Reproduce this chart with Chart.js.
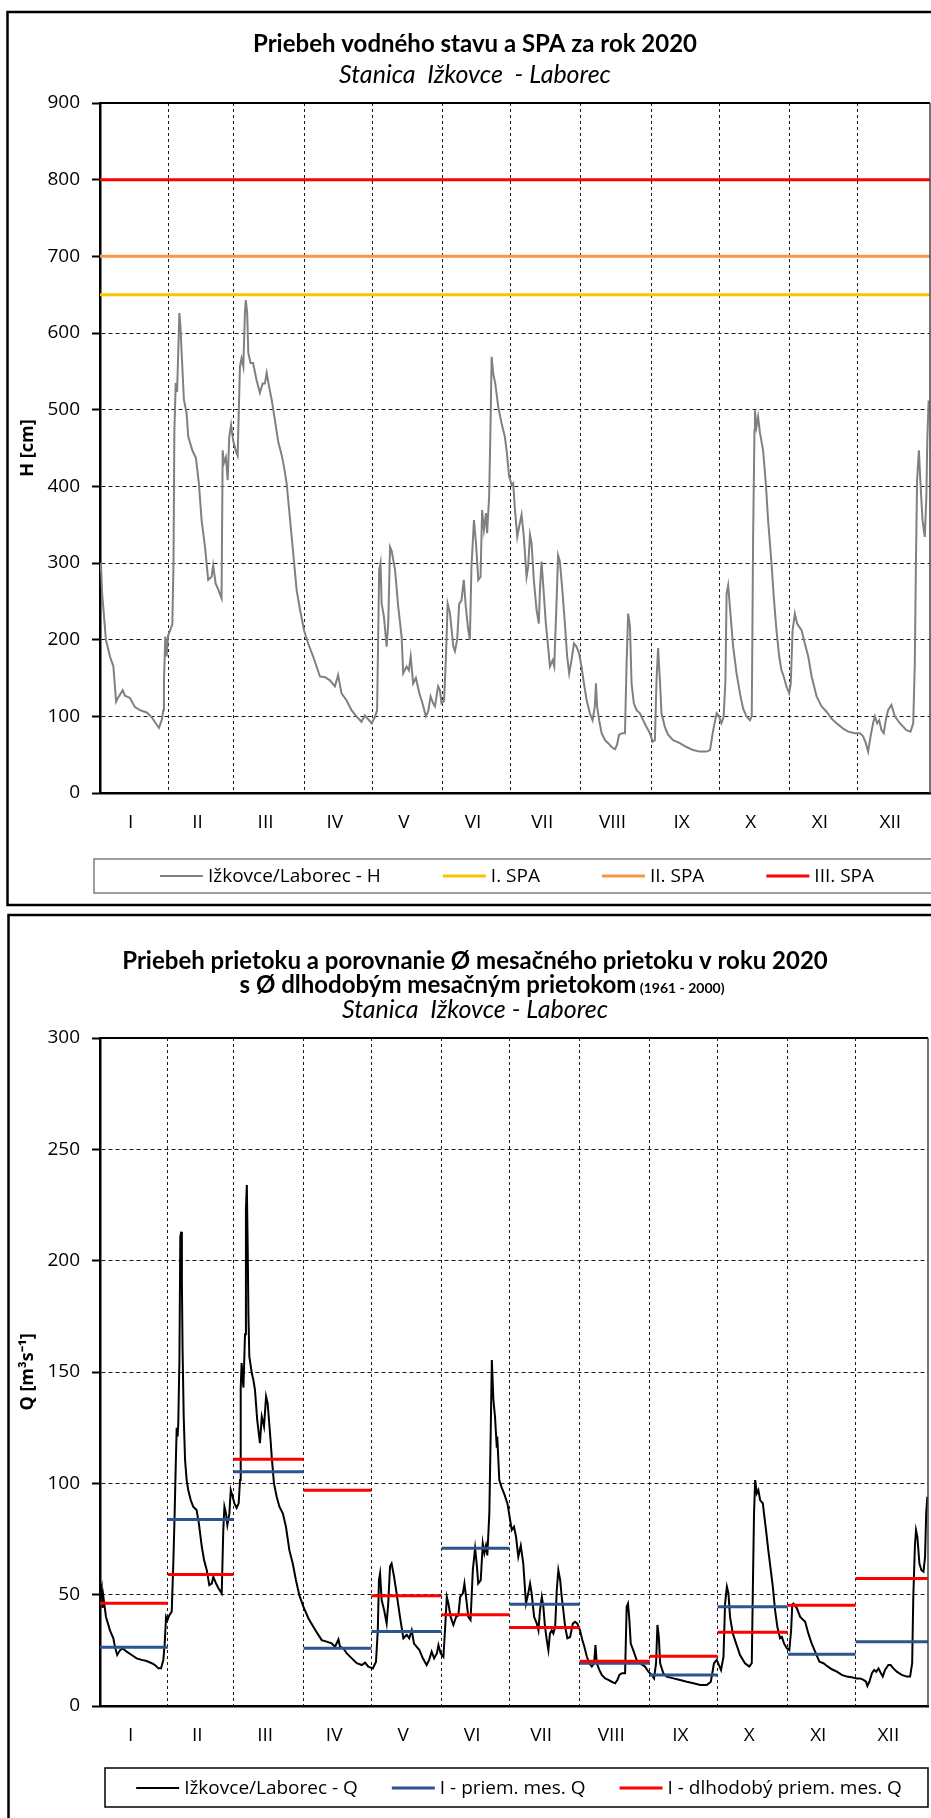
<!DOCTYPE html>
<html>
<head>
<meta charset="utf-8">
<script src="https://cdn.jsdelivr.net/npm/chart.js@4.4.1/dist/chart.umd.min.js"></script>
<style>
  html, body { margin: 0; padding: 0; background: #ffffff; }
  #w1 { position: absolute; left: 0; top: 0; width: 931px; height: 910px; }
  #w2 { position: absolute; left: 0; top: 910px; width: 931px; height: 908px; }
  canvas { display: block; }
</style>
</head>
<body>
<div id="w1"><canvas id="c1" width="931" height="910"></canvas></div>
<div id="w2"><canvas id="c2" width="931" height="908"></canvas></div>
<script>
// ---------------- DATA ----------------
const monthNames = ['I','II','III','IV','V','VI','VII','VIII','IX','X','XI','XII'];
const monthDays = [31,29,31,30,31,30,31,31,30,31,30,31];
const dayAxisMin = 1, dayAxisMax = 367;

const hTickValues = [0,100,200,300,400,500,600,700,800,900];
const qTickValues = [0,50,100,150,200,250,300];

const spaLabels = ['I. SPA','II. SPA','III. SPA'];
const spaLevels = [650, 700, 800];

// water level H [cm]: [day of year, value]
const hReadings = [[1,290],[1.4,300],[1.9,262],[3.6,200],[5.4,178],[6.9,165],[8.1,119],[9.1,125],[11,134],[12,127],[14.2,124],[16.4,112],[18.6,108],[21.6,105],[23.8,99],[26,89],[27,85],[28.3,96],[28.9,108],[29.2,147],[29.8,204],[30.4,178],[31,205],[31.9,212],[32.9,220],[33.4,300],[33.8,473],[34.4,535],[35,523],[36,626],[36.5,608],[37,574],[38,513],[39.2,495],[39.9,465],[41.7,447],[43.3,437],[44.6,404],[45.8,356],[47.3,321],[48.7,278],[50.2,282],[50.9,297],[52,273],[53.1,266],[54.6,254],[55.1,447],[55.6,430],[56.5,438],[57.3,408],[58,465],[58.8,480],[59.7,460],[61,445],[61.7,440],[62.7,556],[63.4,567],[64.2,556],[64.9,626],[65.3,643],[65.9,626],[66.4,574],[67.4,561],[68.5,561],[70,539],[71.5,522],[72.7,534],[73.7,534],[74.5,548],[75.2,536],[76.7,513],[78.1,487],[79.6,458],[81.1,441],[82.1,426],[83.3,404],[84.7,360],[86.2,313],[87.7,265],[89.2,239],[91,212],[92.8,195],[95,178],[96.5,165],[98,152],[100.2,151],[102.4,147],[104.6,139],[106,154],[107.5,130],[109.7,121],[111.9,108],[114.1,100],[116.3,93],[117.8,101],[119.3,96],[120.8,91],[122.2,99],[123.2,108],[123.7,212],[124.1,291],[124.7,300],[125.2,247],[126.2,230],[127.4,191],[128.1,221],[128.9,321],[129.6,316],[131.1,291],[132.5,243],[134,204],[134.7,156],[136.2,165],[137.2,160],[138,178],[139.1,143],[140.3,150],[141.8,130],[143.2,117],[144.7,100],[145.7,106],[146.8,126],[147.9,117],[148.7,113],[150.1,139],[150.9,134],[151.6,117],[152.7,120],[153.2,152],[153.8,200],[154.3,247],[155.3,235],[156.8,191],[157.5,185],[158.5,200],[159.4,247],[160.4,251],[161.4,278],[162.3,243],[163.4,212],[164.1,200],[164.8,295],[165.9,356],[166.8,326],[167.8,278],[168.8,282],[169.5,369],[170.3,343],[171.2,365],[171.7,339],[172.6,387],[173.2,478],[173.7,569],[174.4,547],[175.3,534],[176.6,504],[178.1,482],[179.5,465],[180.3,447],[181.4,413],[182.5,402],[183.2,404],[184,369],[185,334],[185.8,347],[186.9,363],[187.9,334],[189.1,282],[189.8,295],[190.6,337],[191.3,326],[192.3,278],[193.5,239],[194.5,221],[195,265],[195.7,302],[196.4,273],[197.6,221],[198.6,191],[199.4,165],[200.6,173],[201.3,165],[202.3,247],[203,310],[203.8,302],[205,260],[206,221],[207,178],[207.9,156],[208.9,173],[210,195],[211.1,191],[212.3,182],[213.3,165],[214.4,143],[215.6,121],[217,104],[218.2,95],[219.2,113],[219.7,143],[220.2,113],[221.1,95],[222.2,78],[223.7,69],[225.1,65],[226.6,60],[228.1,57],[229,63],[229.9,76],[231.3,78],[232.5,78],[233.2,169],[233.9,234],[234.7,217],[235.4,143],[236.4,117],[237.6,108],[239.1,104],[240.5,95],[242,86],[243.5,78],[244.7,67],[245.7,69],[246.4,147],[247.1,189],[247.9,147],[248.6,104],[250.1,86],[251.5,76],[253.7,69],[256.7,65],[259.6,60],[262.6,56],[265.4,54],[268.5,54],[270,56],[271.4,82],[272.9,104],[274,100],[275,91],[276,99],[276.8,147],[277.3,260],[278,271],[279,234],[280.2,191],[281.7,156],[283.2,130],[284.6,110],[286.1,100],[287.6,95],[288.4,100],[289,334],[289.6,473],[289.8,499],[290.5,478],[291.2,491],[292,470],[293.4,447],[294.6,404],[295.6,356],[297.1,300],[298.1,256],[299.3,212],[300.5,178],[301.5,160],[302.5,152],[303.7,139],[304.9,130],[305.6,143],[306.4,212],[307.4,234],[308.4,221],[310.4,212],[311.8,195],[313.3,178],[314.8,152],[317,126],[319.2,113],[321.4,106],[323.6,97],[325.8,91],[328.7,84],[330.9,80],[333.9,78],[336.1,78],[337.5,74],[338.7,65],[339.7,54],[340.8,74],[341.9,91],[342.7,100],[343.7,91],[344.6,95],[345.6,82],[346.6,78],[347.5,95],[348.5,108],[350,115],[351.5,100],[353.7,91],[356.6,82],[358.4,80],[359.6,91],[360.3,169],[360.8,300],[361.3,408],[362.1,447],[362.8,404],[363.7,356],[364.7,334],[365.4,387],[365.8,460],[366.4,512]];

// discharge Q [m3/s]: [day of year, value]
const qReadings = [[1,50.6],[1.75,53.6],[2.1,44],[2.5,49],[3.65,40],[5.4,34],[6.9,30.4],[7.6,26.6],[8.6,22.9],[9.8,25],[11,25.9],[12.8,24.4],[15,22.9],[17.2,21.4],[19.4,20.7],[21.6,20.2],[23.9,19.2],[25.3,18.4],[26.8,16.9],[28,16.9],[29,20.7],[29.6,28],[30.2,40],[30.8,38.5],[31.6,40.7],[32.7,42.4],[33.4,64],[34,86.5],[34.5,109],[34.9,125],[35.3,121],[35.6,127],[36.1,155],[36.5,210.8],[36.9,213],[37.2,190],[37.5,160],[38,130],[38.6,110.5],[39.3,101.5],[40,97],[41.1,92.5],[42.2,89.5],[43.7,88],[44.7,82],[46,71.5],[47,65.6],[48.2,61],[49.3,54.3],[50.4,55],[51.1,58],[52.3,55],[53.3,53],[54.8,50.6],[55.5,79],[56,89.5],[56.7,86.5],[57.3,81.3],[58.2,86.5],[58.8,97],[59.5,94.5],[60.4,91],[61.4,89],[62.3,91],[62.9,101.5],[63.2,143],[63.6,154],[64.4,143],[65.1,167],[65.5,222.7],[65.9,234],[66.3,205],[66.6,176],[67,157],[68.1,149.4],[68.8,146.4],[69.5,142],[70.5,128.4],[71.7,118],[72.5,130],[73.5,125.5],[74.4,139],[75.1,136],[75.8,127],[76.5,118],[76.9,112],[77.9,100],[79.1,94],[80.3,89.5],[81.8,86.5],[83.2,80.5],[84.7,70],[86.2,64],[87.6,56.6],[89.1,49.8],[90.9,44.6],[93.1,39.4],[95.3,35.6],[97.1,32.6],[99,29.6],[101.2,28.9],[103.4,28.1],[104.9,26.6],[106.4,29.9],[107.1,26.6],[108.6,25.9],[110.1,23.6],[112.3,21.4],[114.5,19.2],[116.7,18.4],[118.2,19.5],[119.6,17.7],[121.6,16.9],[123,19.9],[123.8,34.1],[124.3,56.6],[124.8,59.6],[125.5,47.6],[126.6,43],[127.7,37.1],[128.4,46],[129.2,62.6],[129.9,64],[131,58],[132.1,50.6],[133.6,40],[135.1,30.4],[136.6,32],[137.7,30.4],[138.8,34],[139.8,28],[141,26.6],[142.2,25.1],[143.7,21.4],[145.4,18.4],[146.5,20.7],[147.6,24.4],[148.7,21.4],[149.9,23.6],[150.6,27.4],[151.6,23.6],[152.8,22.1],[153.5,34],[154.3,49],[155,46],[156,40],[157.2,36.4],[158.4,40],[159.4,40.7],[160.2,49],[161.4,50.6],[162.1,55],[162.8,49],[163.8,40],[164.8,38.6],[165.8,61],[166.8,70.8],[167.5,64],[168.2,55],[169.3,56.5],[170.2,73],[170.9,68.6],[171.6,72],[172.2,67.6],[173.1,86.5],[173.7,122.6],[174.2,155.4],[174.9,137.4],[175.6,130],[176.4,116],[176.6,121],[177.5,101.5],[178.6,98],[179.6,95.5],[181.1,91],[182.3,83.5],[183,79],[184,80.5],[184.9,76],[185.9,67],[187,72],[188.1,64],[189.3,46],[190.3,50.6],[191.1,55],[191.8,50.6],[192.9,40],[194.1,37],[194.8,34],[195.5,43],[196.3,49],[197,44.4],[197.7,35.6],[198.5,29.6],[199.2,25.1],[199.9,32.6],[200.7,34],[201.4,32.6],[202.2,35.6],[202.9,52],[203.6,61],[204.4,56.6],[205.1,49],[205.8,43],[206.6,35.6],[207.6,30.4],[208.8,31],[210,37],[211,37.8],[212,37],[213.2,34],[214.2,29.6],[215.1,26.6],[216.2,22.1],[217.3,19.2],[218.4,17.7],[219.4,19.2],[220,27.4],[220.6,19.2],[221.7,16.2],[222.8,14],[224.3,12.4],[225.7,11.7],[227.2,10.9],[228.7,10.2],[229.7,11.7],[230.6,14],[231.7,14.7],[233.1,14.7],[233.8,44.6],[234.4,46],[235,38.6],[235.6,28],[236.7,25.1],[238.2,20.7],[239.7,19.2],[241.9,17.7],[243.4,15.4],[244.9,14],[245.9,12.4],[246.8,19.2],[247.4,36.4],[248,31.4],[248.6,19.2],[250,14.7],[251.5,13.2],[254.5,12.4],[257.4,11.7],[260.4,10.9],[263.3,10.2],[266.3,9.4],[269.2,9.4],[271,10.9],[272.4,19.2],[273.6,20.7],[274.6,18.4],[275.5,16.2],[276.6,22.1],[277.3,46],[278.1,53.6],[278.8,50.6],[279.5,40],[280.7,32.6],[282.2,28],[283.9,22.9],[286.1,19.2],[288,17.7],[289.1,19.2],[289.7,61],[290.1,86.5],[290.6,101.5],[291.3,95.5],[292,97],[292.8,92.5],[294,91],[294.5,86.5],[295.4,79],[296.4,70],[297.5,61],[298.4,53.6],[299.4,43],[300.4,35.6],[301.6,30.4],[302.4,31],[303.4,28],[304.6,25.9],[305.7,25.1],[306.5,34],[307,45.4],[307.5,46],[309,44],[310.5,40],[312.7,37.8],[314.1,32.6],[315.6,28],[317.1,24.4],[319,19.9],[320.8,19.2],[322.3,18],[324.5,16.5],[326.7,15.4],[328.9,14],[331.1,13.2],[333.3,12.9],[335.5,12.4],[337,12.4],[338.5,11.7],[339.6,10.9],[340.2,9],[341.1,10.9],[342.2,14.7],[343.2,16.2],[344.1,15.4],[345.1,16.9],[346.2,14.7],[347,13.2],[348,16.2],[349.5,18.4],[350.5,18.4],[351.7,16.9],[353.2,15.4],[355.4,14],[357.6,13.2],[359.1,13.2],[360,19.2],[360.5,49],[361.2,71.5],[361.7,79],[362.3,76],[363.2,64],[364.1,61],[365,60.3],[365.7,67],[366.2,86.5],[366.7,94]];

// monthly means of Q [m3/s]
const qMonthly2020   = [26.4, 83.8, 105.2, 25.9, 33.5, 70.8, 45.7, 19.2, 13.9, 44.6, 23.2, 28.9];
const qMonthlyLongTerm = [46.1, 59.1, 110.8, 96.9, 49.5, 41.0, 35.3, 20.1, 22.3, 33.1, 45.2, 57.3];

// texts
const chart1Title = 'Priebeh vodného stavu a SPA za rok 2020';
const chart1Subtitle = 'Stanica  Ižkovce  - Laborec';
const chart2TitleLine1 = 'Priebeh prietoku a porovnanie Ø mesačného prietoku v roku 2020';
const chart2TitleLine2 = 's Ø dlhodobým mesačným prietokom';
const chart2TitleNote = ' (1961 - 2000)';
const chart2Subtitle = 'Stanica  Ižkovce - Laborec';
const hAxisTitle = 'H [cm]';
const qAxisTitle = 'Q [m³s⁻¹]';
const hSeriesLabel = 'Ižkovce/Laborec - H';
const qSeriesLabel = 'Ižkovce/Laborec - Q';
const qMonthlyLabel = 'I - priem. mes. Q';
const qLongTermLabel = 'I - dlhodobý priem. mes. Q';

// ---------------- HELPERS ----------------
const monthEnds = [];
monthDays.reduce((acc, d) => { acc += d; monthEnds.push(acc); return acc; }, 0);
const monthBounds = [dayAxisMin, ...monthEnds.slice(0, 11), dayAxisMax];
const monthLabelPos = monthNames.map((_, i) => (monthBounds[i] + monthBounds[i + 1]) / 2 - 1.5);

function toPoints(pairs) { return pairs.map(p => ({ x: p[0], y: p[1] })); }
function monthlySegments(values) {
  const pts = [];
  values.forEach((v, i) => {
    pts.push({ x: monthBounds[i], y: v }, { x: monthBounds[i + 1], y: v });
    if (i < values.length - 1) pts.push({ x: monthBounds[i + 1], y: null });
  });
  return pts;
}
function flatLine(level) { return [{ x: dayAxisMin, y: level }, { x: dayAxisMax, y: level }]; }

Chart.defaults.font.family = "'Open Sans', 'DejaVu Sans', sans-serif";
Chart.defaults.color = '#000';

const tickFont = { family: "'Open Sans', sans-serif", size: 19 };

function makeScales(yTicks, yTitle) {
  return {
    x: {
      type: 'linear', position: 'bottom', min: dayAxisMin, max: dayAxisMax,
      afterBuildTicks: s => { s.ticks = monthEnds.slice(0, 11).map(v => ({ value: v })); },
      afterFit: s => { s.height = 0; },
      ticks: { display: false },
      grid: { display: true, color: '#1a1a1a', lineWidth: 1, drawTicks: false },
      border: { display: true, color: '#000', width: 2.5, dash: [3, 3] }
    },
    xl: {
      type: 'linear', position: 'bottom', min: dayAxisMin, max: dayAxisMax,
      afterBuildTicks: s => { s.ticks = monthLabelPos.map(v => ({ value: v })); },
      afterFit: s => { s.height = 50; },
      grid: { display: false, drawTicks: false },
      border: { display: false },
      ticks: {
        autoSkip: false, maxRotation: 0, minRotation: 0, padding: 18.6,
        font: tickFont, color: '#000',
        callback: (v, i) => monthNames[i]
      }
    },
    y: {
      type: 'linear', position: 'left',
      min: yTicks[0], max: yTicks[yTicks.length - 1],
      afterBuildTicks: s => { s.ticks = yTicks.map(v => ({ value: v })); },
      afterFit: s => { s.width = 100; },
      ticks: { padding: 12, font: tickFont, color: '#000', callback: v => String(v) },
      grid: { display: true, color: '#1a1a1a', lineWidth: 1, drawTicks: true, tickLength: 8, tickColor: '#000', tickWidth: 2 },
      border: { display: true, color: '#000', width: 2.5, dash: [4, 3] },
      title: {
        display: true, text: yTitle, color: '#000',
        font: { family: "'Open Sans', sans-serif", size: 18, weight: 'bold' },
        padding: { top: 17, bottom: 0 }
      }
    }
  };
}

function makeDecor(cfg) {
  return {
    id: 'decor',
    beforeDraw(chart) {
      const ctx = chart.ctx;
      ctx.save();
      ctx.fillStyle = '#fff';
      ctx.fillRect(0, 0, chart.width, chart.height);
      ctx.strokeStyle = '#000';
      ctx.lineWidth = 2.5;
      ctx.strokeRect(cfg.frame.x, cfg.frame.y, cfg.frame.w, cfg.frame.h);
      ctx.fillStyle = '#000';
      ctx.textBaseline = 'alphabetic';
      ctx.textAlign = 'left';
      cfg.titles.forEach(line => {
        let total = 0;
        const widths = line.parts.map(p => { ctx.font = p.font; const w = ctx.measureText(p.text).width; total += w; return w; });
        let x = line.cx - total / 2;
        line.parts.forEach((p, k) => { ctx.font = p.font; ctx.fillText(p.text, x, line.y); x += widths[k]; });
      });
      ctx.restore();
    },
    afterDraw(chart) {
      const ctx = chart.ctx, a = chart.chartArea;
      ctx.save();
      ctx.setLineDash([]);
      ctx.strokeStyle = '#000';
      ctx.lineWidth = 2;
      ctx.beginPath(); ctx.moveTo(a.left, a.top); ctx.lineTo(a.right, a.top); ctx.stroke();
      ctx.strokeStyle = '#444';
      ctx.lineWidth = 1.5;
      ctx.beginPath(); ctx.moveTo(a.right, a.top); ctx.lineTo(a.right, a.bottom); ctx.stroke();
      const L = cfg.legend;
      ctx.strokeStyle = L.boxColor;
      ctx.lineWidth = 1.5;
      ctx.strokeRect(L.box.x, L.box.y, L.box.w, L.box.h);
      ctx.font = L.font;
      ctx.textBaseline = 'middle';
      ctx.textAlign = 'left';
      ctx.fillStyle = '#000';
      const items = L.order.map(i => chart.data.datasets[i]);
      const widths = items.map(d => L.lineLen + L.gap + ctx.measureText(d.label).width);
      const total = widths.reduce((s, w) => s + w, 0) + L.spacing * (items.length - 1);
      let x = L.cx - total / 2;
      items.forEach((d, k) => {
        ctx.strokeStyle = d.borderColor;
        ctx.lineWidth = d.borderWidth;
        ctx.beginPath(); ctx.moveTo(x, L.cy); ctx.lineTo(x + L.lineLen, L.cy); ctx.stroke();
        ctx.fillText(d.label, x + L.lineLen + L.gap, L.cy + 1);
        x += widths[k] + L.spacing;
      });
      ctx.restore();
    }
  };
}

const titleFont = "bold 24px Lato, 'Open Sans', sans-serif";
const subFont = "italic 25px Lato, 'Open Sans', sans-serif";
const noteFont = "bold 14px Lato, 'Open Sans', sans-serif";
const legendFont = "19px 'Open Sans', sans-serif";

// ---------------- CHART 1 ----------------
new Chart(document.getElementById('c1'), {
  type: 'line',
  data: {
    datasets: [
      { label: hSeriesLabel, data: toPoints(hReadings), borderColor: '#808080', borderWidth: 2, pointRadius: 0, tension: 0, order: 3 },
      { label: spaLabels[0], data: flatLine(spaLevels[0]), borderColor: '#FFC000', borderWidth: 3, pointRadius: 0, order: 2 },
      { label: spaLabels[1], data: flatLine(spaLevels[1]), borderColor: '#F79646', borderWidth: 3, pointRadius: 0, order: 1 },
      { label: spaLabels[2], data: flatLine(spaLevels[2]), borderColor: '#FF0000', borderWidth: 3, pointRadius: 0, order: 0 }
    ]
  },
  options: {
    responsive: false, maintainAspectRatio: false, animation: false, devicePixelRatio: 1, events: [],
    layout: { padding: { top: 103, left: 0, right: 1, bottom: 67 } },
    plugins: { legend: { display: false }, title: { display: false }, tooltip: { enabled: false } },
    scales: makeScales(hTickValues, hAxisTitle)
  },
  plugins: [makeDecor({
    frame: { x: 7.5, y: 12, w: 1000, h: 893 },
    titles: [
      { cx: 475, y: 52, parts: [{ text: chart1Title, font: titleFont }] },
      { cx: 475, y: 83, parts: [{ text: chart1Subtitle, font: subFont }] }
    ],
    legend: { box: { x: 94, y: 859, w: 900, h: 34 }, boxColor: '#7f7f7f', cx: 517, cy: 876, lineLen: 43, gap: 5, spacing: 62, font: legendFont, order: [0, 1, 2, 3] }
  })]
});

// ---------------- CHART 2 ----------------
new Chart(document.getElementById('c2'), {
  type: 'line',
  data: {
    datasets: [
      { label: qSeriesLabel, data: toPoints(qReadings), borderColor: '#000000', borderWidth: 2, pointRadius: 0, tension: 0, order: 2 },
      { label: qMonthlyLabel, data: monthlySegments(qMonthly2020), borderColor: '#2B5590', borderWidth: 3, pointRadius: 0, spanGaps: false, borderCapStyle: 'butt', order: 1 },
      { label: qLongTermLabel, data: monthlySegments(qMonthlyLongTerm), borderColor: '#FF0000', borderWidth: 3, pointRadius: 0, spanGaps: false, borderCapStyle: 'butt', order: 0 }
    ]
  },
  options: {
    responsive: false, maintainAspectRatio: false, animation: false, devicePixelRatio: 1, events: [],
    layout: { padding: { top: 128, left: 0, right: 3, bottom: 62 } },
    plugins: { legend: { display: false }, title: { display: false }, tooltip: { enabled: false } },
    scales: makeScales(qTickValues, qAxisTitle)
  },
  plugins: [makeDecor({
    frame: { x: 8.5, y: 5, w: 1000, h: 1000 },
    titles: [
      { cx: 475, y: 59, parts: [{ text: chart2TitleLine1, font: titleFont }] },
      { cx: 482, y: 83, parts: [{ text: chart2TitleLine2, font: titleFont }, { text: chart2TitleNote, font: noteFont }] },
      { cx: 475, y: 108, parts: [{ text: chart2Subtitle, font: subFont }] }
    ],
    legend: { box: { x: 105, y: 858, w: 823, h: 39 }, boxColor: '#000', cx: 519, cy: 878, lineLen: 43, gap: 5, spacing: 34, font: legendFont, order: [0, 1, 2] }
  })]
});
</script>
</body>
</html>
